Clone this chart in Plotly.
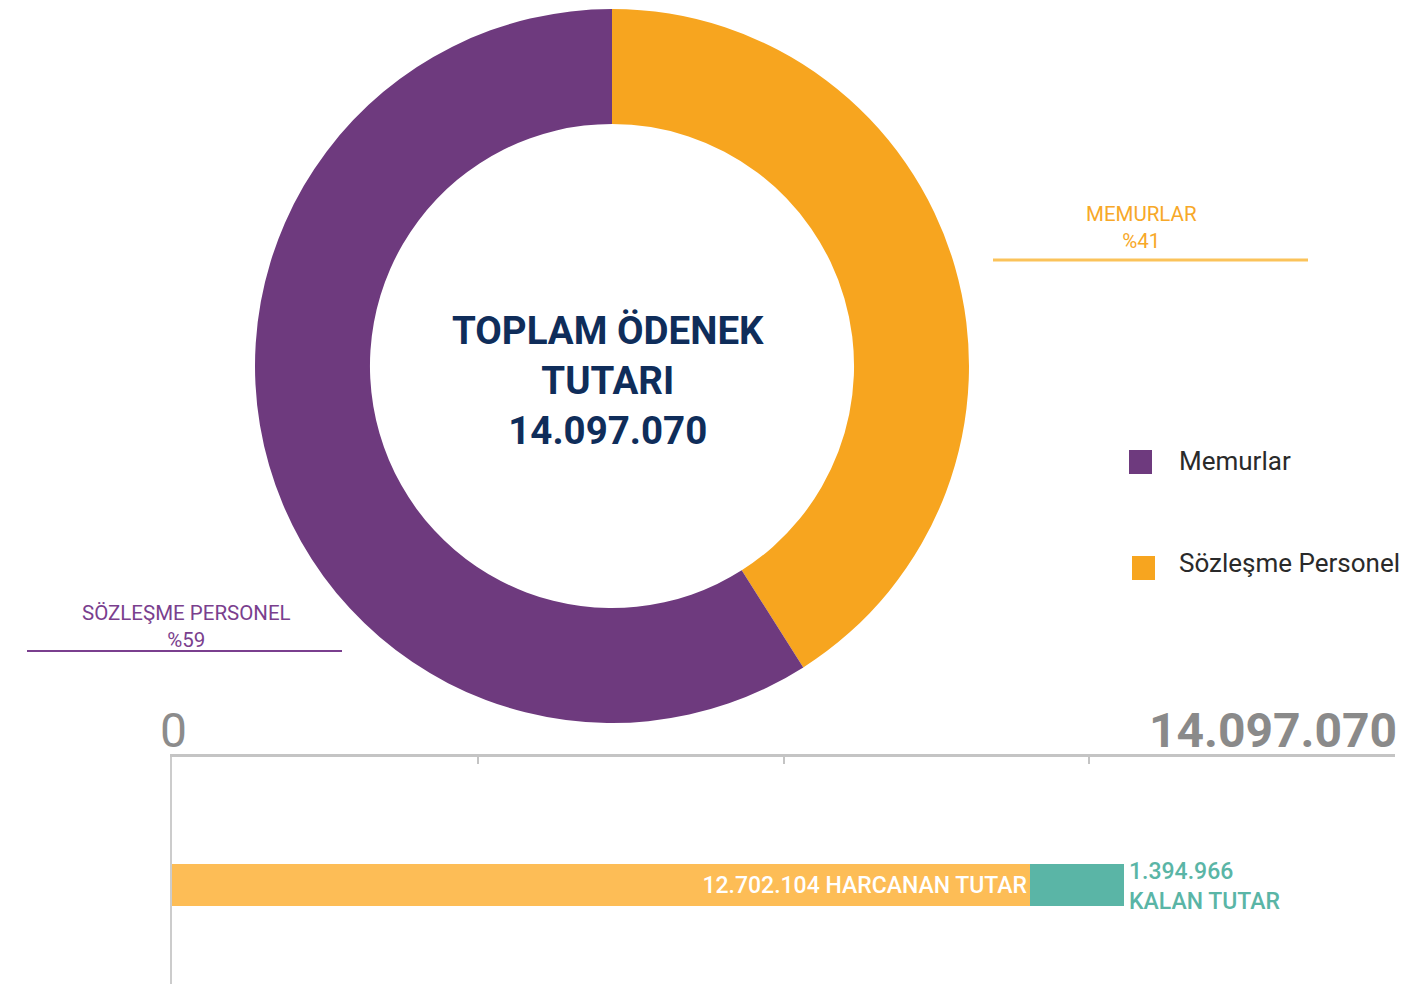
import plotly.graph_objects as go

W, H = 1427, 984

# ---- data ----
pie_labels = ["MEMURLAR", "SÖZLEŞME PERSONEL"]
pie_values = [41, 59]
pie_colors = ["#f7a51f", "#6e3a7e"]
total_amount = 14097070
total_label = "14.097.070"
bar_names = ["HARCANAN TUTAR", "KALAN TUTAR"]
bar_values = [12702104, 1394966]
bar_texts = ["12.702.104 HARCANAN TUTAR", "1.394.966<br>KALAN TUTAR"]
bar_colors = ["#fdbd56", "#5ab5a6"]
legend_labels = ["Memurlar", "Sözleşme Personel"]
legend_colors = ["#6e3a7e", "#f7a51f"]

def px(x):
    return x / W

def py(y):
    return 1 - y / H

FONT = "Roboto"

fig = go.Figure()

fig.add_trace(go.Pie(
    labels=pie_labels, values=pie_values, hole=0.678, sort=False,
    direction="clockwise", rotation=0,
    marker=dict(colors=pie_colors, line=dict(width=0)),
    textinfo="none", hoverinfo="label+percent", showlegend=False,
    domain=dict(x=[px(255), px(969)], y=[py(723), py(9)]),
))

# stacked horizontal bar
axis_max = bar_values[0] * 1223 / 858
fig.add_trace(go.Bar(
    x=[bar_values[0]], y=[0], orientation="h", width=0.185,
    marker=dict(color=bar_colors[0], line=dict(width=0)),
    text=[bar_texts[0]], textposition="inside", insidetextanchor="end",
    textfont=dict(family=FONT, size=23, color="white", weight=500),
    showlegend=False, xaxis="x", yaxis="y", name=bar_names[0],
))
fig.add_trace(go.Bar(
    x=[bar_values[1]], y=[0], orientation="h", width=0.185,
    marker=dict(color=bar_colors[1], line=dict(width=0)),
    showlegend=False, xaxis="x", yaxis="y", name=bar_names[1],
))

annotations = [
    # center text
    dict(x=px(608), y=py(380), xref="paper", yref="paper",
         text="TOPLAM ÖDENEK<br>TUTARI<br>" + total_label, showarrow=False,
         font=dict(family=FONT, size=38.5, color="#0f2d5a", weight="bold"),
         align="center", xanchor="center", yanchor="middle"),
    # slice labels
    dict(x=px(1141), y=py(228), xref="paper", yref="paper",
         text=f"{pie_labels[0]}<br>%{pie_values[0]}", showarrow=False,
         font=dict(family=FONT, size=20.5, color="#f7a828"),
         align="center", xanchor="center", yanchor="middle"),
    dict(x=px(186), y=py(626), xref="paper", yref="paper",
         text=f"{pie_labels[1]}<br>%{pie_values[1]}", showarrow=False,
         font=dict(family=FONT, size=20.5, color="#7a3f8e"),
         align="center", xanchor="center", yanchor="middle"),
    # axis end labels
    dict(x=px(158), y=py(730), xref="paper", yref="paper", text="0",
         showarrow=False, font=dict(family=FONT, size=48, color="#8c8c8c"),
         xanchor="left", yanchor="middle"),
    dict(x=px(1399), y=py(730), xref="paper", yref="paper", text=total_label,
         showarrow=False, font=dict(family=FONT, size=48, color="#8a8a8a", weight="bold"),
         xanchor="right", yanchor="middle"),
    # remaining label
    dict(x=px(1127), y=py(886), xref="paper", yref="paper", text=bar_texts[1],
         showarrow=False, font=dict(family=FONT, size=23, color="#5ab5a6", weight=500),
         align="left", xanchor="left", yanchor="middle"),
]

legend_pos = [(1129, 450, 461), (1132, 556, 563)]
shapes = [
    dict(type="line", xref="paper", yref="paper", x0=px(993), x1=px(1308),
         y0=py(260), y1=py(260), line=dict(color="#fbc35a", width=3)),
    dict(type="line", xref="paper", yref="paper", x0=px(27), x1=px(342),
         y0=py(651), y1=py(651), line=dict(color="#7a3f8e", width=2)),
]
for (lx, ly, ty), lab, col in zip(legend_pos, legend_labels, legend_colors):
    shapes.append(dict(type="rect", xref="paper", yref="paper",
                       x0=px(lx), x1=px(lx + 23), y0=py(ly + 24), y1=py(ly),
                       fillcolor=col, line=dict(width=0)))
    annotations.append(dict(x=px(1177), y=py(ty), xref="paper", yref="paper",
                            text=lab, showarrow=False,
                            font=dict(family=FONT, size=26, color="#2a2a2a"),
                            xanchor="left", yanchor="middle"))

fig.update_layout(
    width=W, height=H, margin=dict(l=0, r=0, t=0, b=0),
    paper_bgcolor="white", plot_bgcolor="white",
    barmode="stack", bargap=0,
    xaxis=dict(domain=[px(172), px(1395)], range=[0, axis_max], side="top",
               anchor="y", showgrid=False, zeroline=False, showline=True,
               linecolor="#c4c4c4", linewidth=3, ticks="inside", ticklen=7,
               tickwidth=2, tickcolor="#c4c4c4",
               tickvals=[axis_max * i / 4 for i in range(5)], showticklabels=False),
    yaxis=dict(domain=[0, py(757)], range=[-0.436, 0.564], anchor="x",
               showgrid=False, zeroline=False, showline=True, linecolor="#cccccc",
               linewidth=2, showticklabels=False, ticks=""),
    annotations=annotations, shapes=shapes,
)

fig.write_html("out.html", config={"displayModeBar": False},
               post_script="document.body.style.margin='0';")
